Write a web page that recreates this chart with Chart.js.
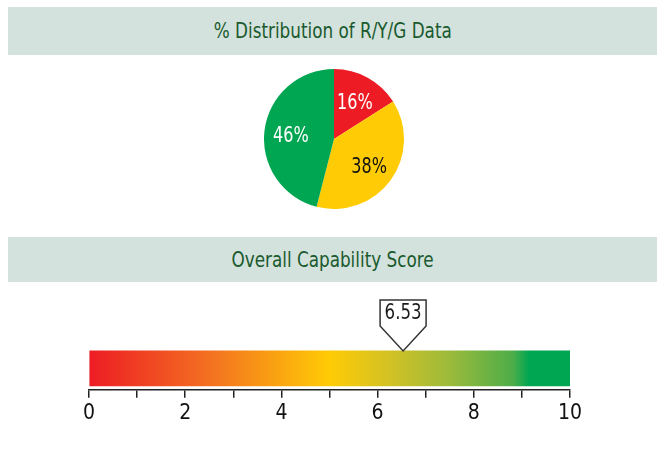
<!DOCTYPE html>
<html>
<head>
<meta charset="utf-8">
<script src="https://cdn.jsdelivr.net/npm/chart.js@4.4.1/dist/chart.umd.min.js"></script>
<style>
  html, body { margin: 0; padding: 0; background: #fff; }
  body { width: 657px; height: 454px; position: relative; overflow: hidden;
         font-family: "Liberation Sans Narrow", "DejaVu Sans Condensed", "Roboto", sans-serif; }
  .title-bar { position: absolute; left: 8px; width: 649px; background: #d3e2dc;
               color: #1a5a2e; font-size: 21px; text-align: center; }
  .title-bar span { display: inline-block; transform: scaleX(0.89); }
  #title1 { top: 7px; height: 48px; line-height: 49px; }
  #title2 { top: 237px; height: 45px; line-height: 46px; }
  #pieBox { position: absolute; left: 264px; top: 69px; width: 140px; height: 140px; }
  #scoreBox { position: absolute; left: 0; top: 290px; width: 657px; height: 139px; }
</style>
</head>
<body>
<div class="title-bar" id="title1"><span>% Distribution of R/Y/G Data</span></div>
<div id="pieBox"><canvas id="js-chart-pie"></canvas></div>
<div class="title-bar" id="title2"><span>Overall Capability Score</span></div>
<div id="scoreBox"><canvas id="js-chart-score"></canvas></div>

<script>
// Data
const ragLabels = ['Red', 'Yellow', 'Green'];
const ragPercent = [16, 38, 46];
const ragColors = ['#ed1c24', '#ffcb05', '#00a651'];
const ragTextColors = ['#ffffff', '#111111', '#ffffff'];

const scoreRange = [0, 10];
const scoreTickLabels = [0, 2, 4, 6, 8, 10];
const overallScore = 6.53;

const fontFamily = '"Liberation Sans Narrow", "DejaVu Sans Condensed", "Roboto", sans-serif';

Chart.defaults.font.family = fontFamily;
Chart.defaults.animation = false;

// draw text squeezed a bit horizontally, to look like a condensed face
function narrowText(ctx, text, x, y, squeeze) {
  ctx.save();
  ctx.translate(x, y);
  ctx.scale(squeeze, 1);
  ctx.fillText(text, 0, 0);
  ctx.restore();
}

// Percent labels inside the pie slices
const pieLabels = {
  id: 'pieLabels',
  afterDatasetsDraw(chart) {
    const ctx = chart.ctx;
    const meta = chart.getDatasetMeta(0);
    ctx.save();
    ctx.font = '21px ' + fontFamily;
    ctx.textAlign = 'center';
    ctx.textBaseline = 'middle';
    meta.data.forEach((arc, i) => {
      const mid = (arc.startAngle + arc.endAngle) / 2;
      const r = arc.outerRadius * 0.62;
      ctx.fillStyle = ragTextColors[i];
      narrowText(ctx, ragPercent[i] + '%', arc.x + Math.cos(mid) * r, arc.y + Math.sin(mid) * r + 3, 0.85);
    });
    ctx.restore();
  }
};

// Pentagon marker with the score above the bar
const scoreMarker = {
  id: 'scoreMarker',
  afterDraw(chart) {
    const ctx = chart.ctx;
    const x = chart.scales.x.getPixelForValue(overallScore);
    const bar = chart.getDatasetMeta(0).data[0];
    const tipY = bar.y - bar.height / 2;
    const boxBottom = tipY - 25;
    const boxTop = tipY - 51;
    const half = 23;
    ctx.save();
    ctx.beginPath();
    ctx.moveTo(x - half, boxTop);
    ctx.lineTo(x + half, boxTop);
    ctx.lineTo(x + half, boxBottom);
    ctx.lineTo(x, tipY);
    ctx.lineTo(x - half, boxBottom);
    ctx.closePath();
    ctx.fillStyle = '#fff';
    ctx.fill();
    ctx.lineWidth = 1.5;
    ctx.strokeStyle = '#333';
    ctx.stroke();
    ctx.fillStyle = '#1a1a1a';
    ctx.font = '21px ' + fontFamily;
    ctx.textAlign = 'center';
    ctx.textBaseline = 'middle';
    narrowText(ctx, overallScore.toFixed(2), x, (boxTop + boxBottom) / 2 + 1, 0.88);
    ctx.restore();
  }
};

function scoreGradient(context) {
  const area = context.chart.chartArea;
  if (!area) return '#ffcb05';
  const g = context.chart.ctx.createLinearGradient(area.left, 0, area.right, 0);
  g.addColorStop(0, '#ed1c24');
  g.addColorStop(0.25, '#f37021');
  g.addColorStop(0.5, '#ffcb05');
  g.addColorStop(0.62, '#d4c223');
  g.addColorStop(0.75, '#9cba3b');
  g.addColorStop(0.88, '#4fad49');
  g.addColorStop(0.915, '#00a651');
  g.addColorStop(1, '#00a651');
  return g;
}

new Chart(document.getElementById('js-chart-pie'), {
  type: 'pie',
  data: {
    labels: ragLabels,
    datasets: [{ data: ragPercent, backgroundColor: ragColors, borderWidth: 0 }]
  },
  options: {
    responsive: true,
    maintainAspectRatio: false,
    plugins: { legend: { display: false }, tooltip: { enabled: false } }
  },
  plugins: [pieLabels]
});

new Chart(document.getElementById('js-chart-score'), {
  type: 'bar',
  data: {
    labels: ['Score'],
    datasets: [{ data: [scoreRange], backgroundColor: scoreGradient, barThickness: 35, borderSkipped: false }]
  },
  options: {
    indexAxis: 'y',
    responsive: true,
    maintainAspectRatio: false,
    layout: { padding: { left: 89, right: 87, top: 57, bottom: 0 } },
    scales: {
      x: {
        min: scoreRange[0],
        max: scoreRange[1],
        afterBuildTicks(scale) {
          scale.ticks = [];
          for (let v = scoreRange[0]; v <= scoreRange[1]; v++) scale.ticks.push({ value: v });
        },
        ticks: {
          autoSkip: false,
          maxRotation: 0,
          padding: 3,
          color: '#111',
          font: { size: 21 },
          callback: v => scoreTickLabels.includes(v) ? String(v) : ''
        },
        grid: { drawOnChartArea: false, drawTicks: true, tickLength: 8, color: '#222', lineWidth: 1.5 },
        border: { display: true, color: '#222', width: 1.5 }
      },
      y: { display: false }
    },
    plugins: { legend: { display: false }, tooltip: { enabled: false } }
  },
  plugins: [scoreMarker]
});
</script>
</body>
</html>
